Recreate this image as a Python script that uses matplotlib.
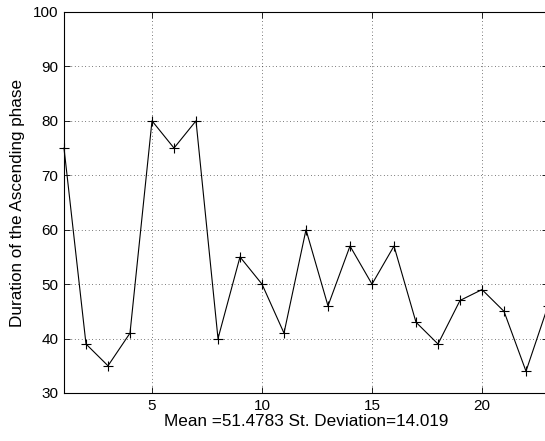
import matplotlib
matplotlib.use("Agg")
import matplotlib.pyplot as plt

x = list(range(1, 24))
durations = [75, 39, 35, 41, 80, 75, 80, 40, 55, 50, 41, 60, 46, 57, 50, 57, 43, 39, 47, 49, 45, 34, 46]
xticks = [5, 10, 15, 20]
yticks = [30, 40, 50, 60, 70, 80, 90, 100]
xlabel = "Mean =51.4783 St. Deviation=14.019"
ylabel = "Duration of the Ascending phase"

plt.rcParams['font.family'] = ['Liberation Sans', 'DejaVu Sans']
fig = plt.figure(figsize=(5.45, 4.41), dpi=100)
W, H = 545, 441
left, right, top, bottom = 64, 548, 12, 393
ax = fig.add_axes([left / W, 1 - bottom / H, (right - left) / W, (bottom - top) / H])
ax.plot(x, durations, color='black', linewidth=0.8, marker='+', markersize=6.5, markeredgewidth=0.8, clip_on=False)
ax.set_xlim(1, 23)
ax.set_ylim(30, 100)
ax.set_xticks(xticks)
ax.set_yticks(yticks)
ax.grid(True, linestyle=(0, (1, 4)), color='black', linewidth=0.5)
ax.tick_params(direction='in', labelsize=11, length=4, width=0.6, top=True, right=True, pad=4)
for s in ax.spines.values():
    s.set_linewidth(0.8)
ax.set_xlabel(xlabel, fontsize=12.3, labelpad=1)
ax.set_ylabel(ylabel, fontsize=12.3, labelpad=6)
fig.savefig("out.png", dpi=100)
